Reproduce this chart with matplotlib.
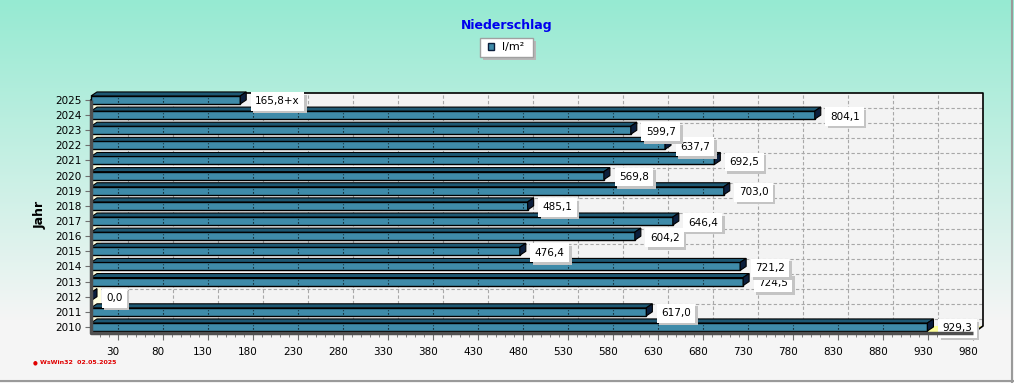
import numpy as np
import matplotlib
matplotlib.use("Agg")
import matplotlib.pyplot as plt
import matplotlib.patheffects as pe
from matplotlib.patches import Polygon, Rectangle
from matplotlib.transforms import ScaledTranslation

# data
years = [2010, 2011, 2012, 2013, 2014, 2015, 2016, 2017,
         2018, 2019, 2020, 2021, 2022, 2023, 2024, 2025]
rain = [929.3, 617.0, 0.0, 724.5, 721.2, 476.4, 604.2, 646.4,
        485.1, 703.0, 569.8, 692.5, 637.7, 599.7, 804.1, 165.8]
incomplete = [2025]
xticks = list(range(30, 981, 50))
title = "Niederschlag"
series_name = "l/m²"
stamp = "WsWin32  02.05.2025"

W, H = 1014, 383
fig = plt.figure(figsize=(W / 100, H / 100), dpi=100)

# background gradient (teal -> light gray)
bg = fig.add_axes([0, 0, 1, 1])
top_c = np.array([0x96, 0xEA, 0xD2]) / 255
bot_c = np.array([0xF5, 0xF5, 0xF5]) / 255
f = np.clip(np.arange(H) / 320.0, 0, 1)[:, None]
grad = (top_c * (1 - f) + bot_c * f)[:, None, :]
bg.imshow(grad, extent=[0, 1, 0, 1], aspect="auto", origin="upper")
bg.plot([0.9985, 0.9985], [0, 1], color="#9a9a9a", lw=1.5)
bg.plot([0, 1], [0.004, 0.004], color="#9a9a9a", lw=1.5)
bg.set_xlim(0, 1)
bg.set_ylim(0, 1)
bg.axis("off")

# plot axes (front plane)
XMAX = 991.0
Y0, Y1 = -0.4, 15.46
ax = fig.add_axes([91 / W, (H - 333) / H, 892 / W, 240 / H])
ax.set_xlim(0, XMAX)
ax.set_ylim(Y0, Y1)
ax.patch.set_visible(False)
for s in ax.spines.values():
    s.set_visible(False)

def dx(px):
    return px * XMAX / 892.0

def dy(px):
    return px * (Y1 - Y0) / 240.0

DX, DY = dx(10), dy(7)
X1 = XMAX - DX
ytop_front = Y1 - DY

# back wall
ax.add_patch(Rectangle((DX, Y0 + DY), XMAX - DX, Y1 - Y0 - DY,
                       fc="#F3F3F3", ec="none", zorder=0))
for t in xticks:
    ax.plot([t + DX, t + DX], [Y0 + DY, Y1], color="#a8a8a8", lw=0.8,
            dashes=(3, 2), zorder=1)
for i in range(len(years) - 1):
    ax.plot([DX, XMAX], [i + 0.5, i + 0.5], color="#a8a8a8", lw=0.8,
            dashes=(3, 2), zorder=1)

# left wall and floor
ax.add_patch(Polygon([(0, Y0), (0, ytop_front), (DX, Y1), (DX, Y0 + DY)],
                     closed=True, fc="#FFFFE0", ec="none", zorder=1))
ax.add_patch(Polygon([(0, Y0), (X1, Y0), (XMAX, Y0 + DY), (DX, Y0 + DY)],
                     closed=True, fc="#FFFF99", ec="none", zorder=1))
ax.plot([0, DX, XMAX, XMAX, X1], [ytop_front, Y1, Y1, Y0 + DY, Y0],
        color="black", lw=1.2, zorder=2, clip_on=False)
ax.plot([0, 0, X1], [ytop_front, Y0, Y0], color="#505050", lw=2.5,
        zorder=6, clip_on=False, solid_capstyle="butt")

# bars
pos = np.arange(len(years))
BH = dy(8)
bdx, bdy = dx(6), dy(4)
ax.barh(pos, rain, height=BH, color="#3F8BA9", edgecolor="black",
        lw=1, zorder=3, clip_on=False)
for c, v in zip(pos, rain):
    ytop = c + BH / 2
    ax.add_patch(Polygon([(0, ytop), (v, ytop), (v + bdx, ytop + bdy),
                          (bdx, ytop + bdy)], closed=True, fc="#1D5873",
                         ec="black", lw=0.8, zorder=3, clip_on=False))
    ax.add_patch(Polygon([(v, c - BH / 2), (v, ytop), (v + bdx, ytop + bdy),
                          (v + bdx, c - BH / 2 + bdy)], closed=True,
                         fc="#0B1E3C", ec="black", lw=0.8, zorder=3,
                         clip_on=False))
    for t in xticks:
        if t < v - 3:
            ax.plot([t, t], [c - BH / 4, c + BH / 4], color="black", lw=0.8,
                    dashes=(1, 2), zorder=4)

# value labels with a soft shadow behind the box
shadow = [pe.SimplePatchShadow(offset=(1.8, -1.8), shadow_rgbFace="#c4c4c4",
                               alpha=1.0), pe.Normal()]
for c, v, yr in zip(pos, rain, years):
    txt = f"{v:.1f}".replace(".", ",")
    if yr in incomplete:
        txt += "+x"
    t = ax.text(v + bdx + dx(9), c - dy(1.5), txt, fontsize=7.5,
                color="black", va="center", ha="left", zorder=5,
                bbox=dict(boxstyle="square,pad=0.42", fc="white", ec="none"))
    t.get_bbox_patch().set_path_effects(shadow)

# ticks
ax.set_yticks(pos)
ax.set_yticklabels([str(y) for y in years], fontsize=7.5)
ax.set_xticks(xticks)
ax.set_xticklabels([str(t) for t in xticks], fontsize=7.5)
ax.set_xticks(np.arange(10, 981, 10), minor=True)
ax.tick_params(axis="y", length=4, color="#707070", pad=3)
ax.tick_params(axis="x", which="major", length=5, color="#707070", pad=5)
ax.tick_params(axis="x", which="minor", length=3, color="#707070")
shift = ScaledTranslation(-5 / 100, 0, fig.dpi_scale_trans)
for lab in ax.get_xticklabels():
    lab.set_transform(lab.get_transform() + shift)

fig.text(40 / W, 1 - 215 / H, "Jahr", rotation=90, fontsize=9,
         fontweight="bold", ha="center", va="center")

# title and legend
fig.text(507 / W, 1 - 25 / H, title, fontsize=9, fontweight="bold",
         color="#0000EE", ha="center", va="center")
fig.patches.append(Rectangle((483 / W, 1 - 60 / H), 53 / W, 19 / H,
                             transform=fig.transFigure, fc="#b8b8b8",
                             ec="none", zorder=1))
fig.patches.append(Rectangle((480 / W, 1 - 57 / H), 53 / W, 19 / H,
                             transform=fig.transFigure, fc="white",
                             ec="#a0a0a0", lw=1, zorder=2))
fig.patches.append(Rectangle((488 / W, 1 - 50 / H), 6 / W, 7 / H,
                             transform=fig.transFigure, fc="#3F8BA9",
                             ec="#0B1E3C", lw=1, zorder=3))
fig.text(502 / W, 1 - 47 / H, series_name, fontsize=8, ha="left",
         va="center", zorder=4)

# stamp
fig.text(33 / W, 1 - 363 / H, "●", fontsize=4, color="#e00000",
         ha="left", va="center")
fig.text(40 / W, 1 - 363 / H, stamp, fontsize=4.5, color="#e00000",
         fontweight="bold", ha="left", va="center")

fig.savefig("out.png", dpi=100)
